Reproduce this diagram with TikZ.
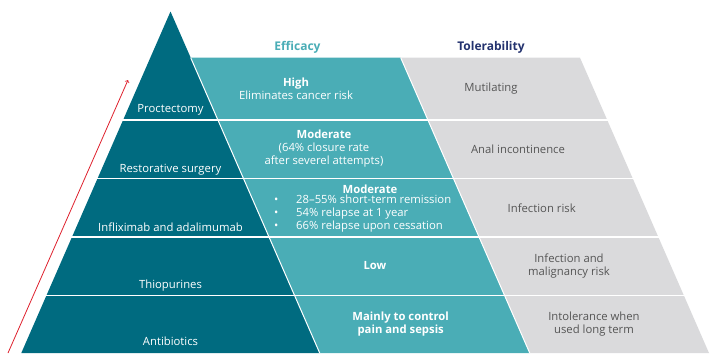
\documentclass[tikz,border=0pt]{standalone}
\usepackage{fontspec}
\setmainfont{Open Sans}
\usetikzlibrary{arrows}
\definecolor{pyrteal}{RGB}{0,107,128}
\definecolor{efteal}{RGB}{74,173,182}
\definecolor{tolgrey}{RGB}{218,218,220}
\definecolor{tolnavy}{RGB}{35,50,110}
\definecolor{txtgrey}{RGB}{85,85,85}
\definecolor{arrowred}{RGB}{222,32,44}

\begin{document}
\begin{tikzpicture}[x=1pt, y=-1pt]
	\tikzstyle{tier}=[text=white, font=\fontsize{11.3}{13}\selectfont, align=center, inner sep=0pt]
	\tikzstyle{effic}=[text=white, font=\fontsize{11.3}{13}\selectfont, align=center, inner sep=0pt]
	\tikzstyle{toler}=[text=txtgrey, font=\fontsize{11.3}{13}\selectfont, align=center, inner sep=0pt]
	\tikzstyle{header}=[font=\fontsize{12}{13}\selectfont\bfseries, inner sep=0pt]
	\useasboundingbox (0,0) rectangle (718,362);

	\fill[pyrteal] (170.5,11.5) -- (319.7,353) -- (21.3,353) -- cycle;
	\fill[efteal] (190.7,57.7) -- (400.7,57.7) -- (529.7,353) -- (319.7,353) -- cycle;
	\fill[tolgrey] (400.7,57.7) -- (580,57.7) -- (709,353) -- (529.7,353) -- cycle;
	\draw[white, line width=1pt] (190.7,57.7) -- (319.7,353);
	\draw[white, line width=1pt] (400.7,57.7) -- (529.7,353);
	\foreach \y in {120,178.5,237,295.7}
		\draw[white, line width=1.5pt] (0,\y) -- (718,\y);

	\node[header, text=efteal] (effhead) at (297.5,47.3) {Efficacy};
	\node[header, text=tolnavy] (tolhead) at (491,47.3) {Tolerability};

	\node[tier] (tierA) at (170.5,110) {Proctectomy};
	\node[tier] (tierB) at (170.5,169.5) {Restorative surgery};
	\node[tier] (tierC) at (170.5,227) {Infliximab and adalimumab};
	\node[tier] (tierD) at (170.5,286) {Thiopurines};
	\node[tier] (tierE) at (170.5,341) {Antibiotics};

	\node[effic] (effA) at (296,88.5) {\textbf{High}\\Eliminates cancer risk};
	\node[effic] (effB) at (324,149) {\textbf{Moderate}\\(64\% closure rate\\after severel attempts)};
	\node[effic] (effC) at (370,189) {\textbf{Moderate}};
	\node[effic, anchor=west, align=left] (effCl) at (274,214)
		{\makebox[22pt][l]{•}28–55\% short-term remission\\
		 \makebox[22pt][l]{•}54\% relapse at 1 year\\
		 \makebox[22pt][l]{•}66\% relapse upon cessation};
	\node[effic] (effD) at (375,266) {\textbf{Low}};
	\node[effic] (effE) at (400.7,324.5) {\textbf{Mainly to control}\\\textbf{pain and sepsis}};

	\node[toler] (tolA) at (491,89) {Mutilating};
	\node[toler] (tolB) at (518,149) {Anal incontinence};
	\node[toler] (tolC) at (541.7,208) {Infection risk};
	\node[toler] (tolD) at (569,266.5) {Infection and\\malignancy risk};
	\node[toler] (tolE) at (594,324.5) {Intolerance when\\used long term};

	\coordinate (riseA) at (8,353);
	\coordinate (riseB) at (128,80);
	\draw[->, >=to, arrowred, line width=0.8pt] (riseA) -- (riseB);
\end{tikzpicture}
\end{document}
